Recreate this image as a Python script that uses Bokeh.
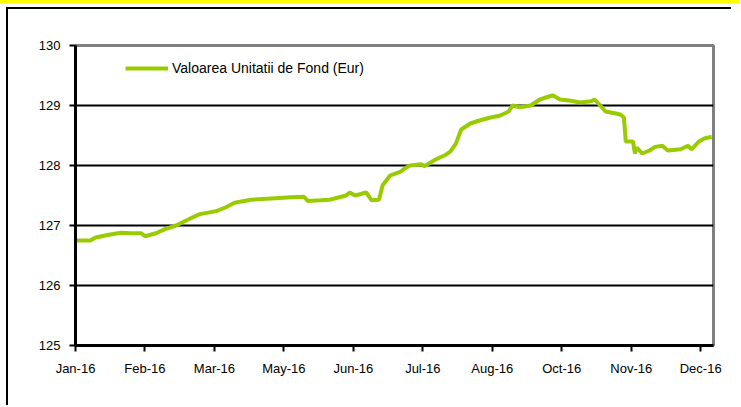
import pandas as pd
from bokeh.plotting import figure
from bokeh.layouts import column
from bokeh.models import FixedTicker, Legend, LegendItem
from bokeh.embed import file_html
from bokeh.resources import INLINE

# ---- data ----
DATES = [
    "2016-01-11", "2016-01-19", "2016-01-22", "2016-01-30", "2016-02-05",
    "2016-02-10", "2016-02-16", "2016-02-18", "2016-02-24", "2016-02-29",
    "2016-03-06", "2016-03-14", "2016-03-19", "2016-03-28", "2016-04-02",
    "2016-04-07", "2016-04-16", "2016-04-27", "2016-05-08", "2016-05-15",
    "2016-05-17", "2016-05-24", "2016-05-29", "2016-06-07", "2016-06-09",
    "2016-06-12", "2016-06-18", "2016-06-21", "2016-06-25", "2016-06-27",
    "2016-07-01", "2016-07-07", "2016-07-09", "2016-07-12", "2016-07-18",
    "2016-07-20", "2016-07-26", "2016-07-31", "2016-08-03", "2016-08-06",
    "2016-08-09", "2016-08-14", "2016-08-19", "2016-08-25", "2016-08-30",
    "2016-09-04", "2016-09-06", "2016-09-10", "2016-09-16", "2016-09-21",
    "2016-09-26", "2016-09-28", "2016-10-02", "2016-10-08", "2016-10-13",
    "2016-10-19", "2016-10-21", "2016-10-24", "2016-10-27", "2016-11-01",
    "2016-11-04", "2016-11-06", "2016-11-07", "2016-11-11", "2016-11-12",
    "2016-11-13", "2016-11-16", "2016-11-20", "2016-11-23", "2016-11-27",
    "2016-11-30", "2016-12-07", "2016-12-11", "2016-12-13", "2016-12-17",
    "2016-12-20", "2016-12-24",
]
VALUES = [
    126.75, 126.75, 126.80, 126.85, 126.88,
    126.87, 126.87, 126.82, 126.87, 126.94,
    127.00, 127.12, 127.19, 127.24, 127.30,
    127.38, 127.43, 127.45, 127.47, 127.48,
    127.41, 127.42, 127.43, 127.50, 127.55,
    127.50, 127.55, 127.42, 127.43, 127.67,
    127.83, 127.90, 127.95, 128.00, 128.02,
    127.99, 128.10, 128.17, 128.23, 128.36,
    128.60, 128.70, 128.75, 128.80, 128.83,
    128.90, 129.00, 128.97, 129.00, 129.10,
    129.15, 129.17, 129.10, 129.08, 129.05,
    129.07, 129.10, 129.00, 128.90, 128.87,
    128.85, 128.80, 128.40, 128.40, 128.20,
    128.30, 128.20, 128.25, 128.31, 128.33,
    128.25, 128.27, 128.33, 128.27, 128.40,
    128.45, 128.48,
]
SERIES_NAME = "Valoarea Unitatii de Fond (Eur)"
START = "2016-01-11"
TICK_STEP_DAYS = 38
TICK_LABELS = ["Jan-16", "Feb-16", "Mar-16", "May-16", "Jun-16",
               "Jul-16", "Aug-16", "Oct-16", "Nov-16", "Dec-16"]
X_END_DAYS = 349
Y_TICKS = [125, 126, 127, 128, 129, 130]
GRID_TICKS = [126, 127, 128, 129]

# ---- derived ----
x_days = (pd.to_datetime(DATES) - pd.Timestamp(START)).days.tolist()
x_ticks = [i * TICK_STEP_DAYS for i in range(len(TICK_LABELS))]

FONT = "Liberation Sans"
GREEN = "#99CC00"

p = figure(width=725, height=398, output_backend="svg", toolbar_location=None,
           x_range=(0, X_END_DAYS), y_range=(Y_TICKS[0], Y_TICKS[-1]))
p.styles = {"border-top": "2px solid black", "border-left": "2px solid black"}
p.min_border_left = 67
p.min_border_top = 36
p.min_border_right = 20
p.min_border_bottom = 62

p.background_fill_color = "white"
p.border_fill_color = "white"
p.outline_line_color = "#808080"
p.outline_line_width = 3

r = p.line(x_days, VALUES, line_color=GREEN, line_width=4)

# axes
for ax in (p.xaxis, p.yaxis):
    ax.axis_line_color = "black"
    ax.axis_line_width = 3
    ax.major_tick_line_color = "black"
    ax.major_tick_line_width = 2
    ax.major_tick_out = 6
    ax.major_tick_in = 0
    ax.minor_tick_line_color = None
    ax.major_label_text_font = FONT
    ax.major_label_text_font_size = "13px"
    ax.major_label_text_color = "black"
    ax.major_label_standoff = 9

p.yaxis.ticker = FixedTicker(ticks=Y_TICKS)
p.xaxis.ticker = FixedTicker(ticks=x_ticks)
p.xaxis.major_label_overrides = {t: lab for t, lab in zip(x_ticks, TICK_LABELS)}

p.xgrid.grid_line_color = None
p.ygrid.ticker = FixedTicker(ticks=GRID_TICKS)
p.ygrid.grid_line_color = "black"
p.ygrid.grid_line_width = 2

legend = Legend(items=[LegendItem(label=SERIES_NAME, renderers=[r])],
                location=(50, 267))
legend.border_line_color = None
legend.background_fill_alpha = 0
legend.glyph_width = 43
legend.glyph_height = 20
legend.label_height = 20
legend.label_standoff = 4
legend.padding = 0
legend.margin = 0
legend.label_text_font = FONT
legend.label_text_font_size = "14px"
legend.label_text_color = "black"
p.add_layout(legend, "center")

page = column(p)
page.styles = {"border-top": "3px solid #FFFF00", "padding-top": "4px",
               "padding-left": "6px", "padding-right": "8px"}

open("out.html", "w").write(file_html(page, INLINE))
